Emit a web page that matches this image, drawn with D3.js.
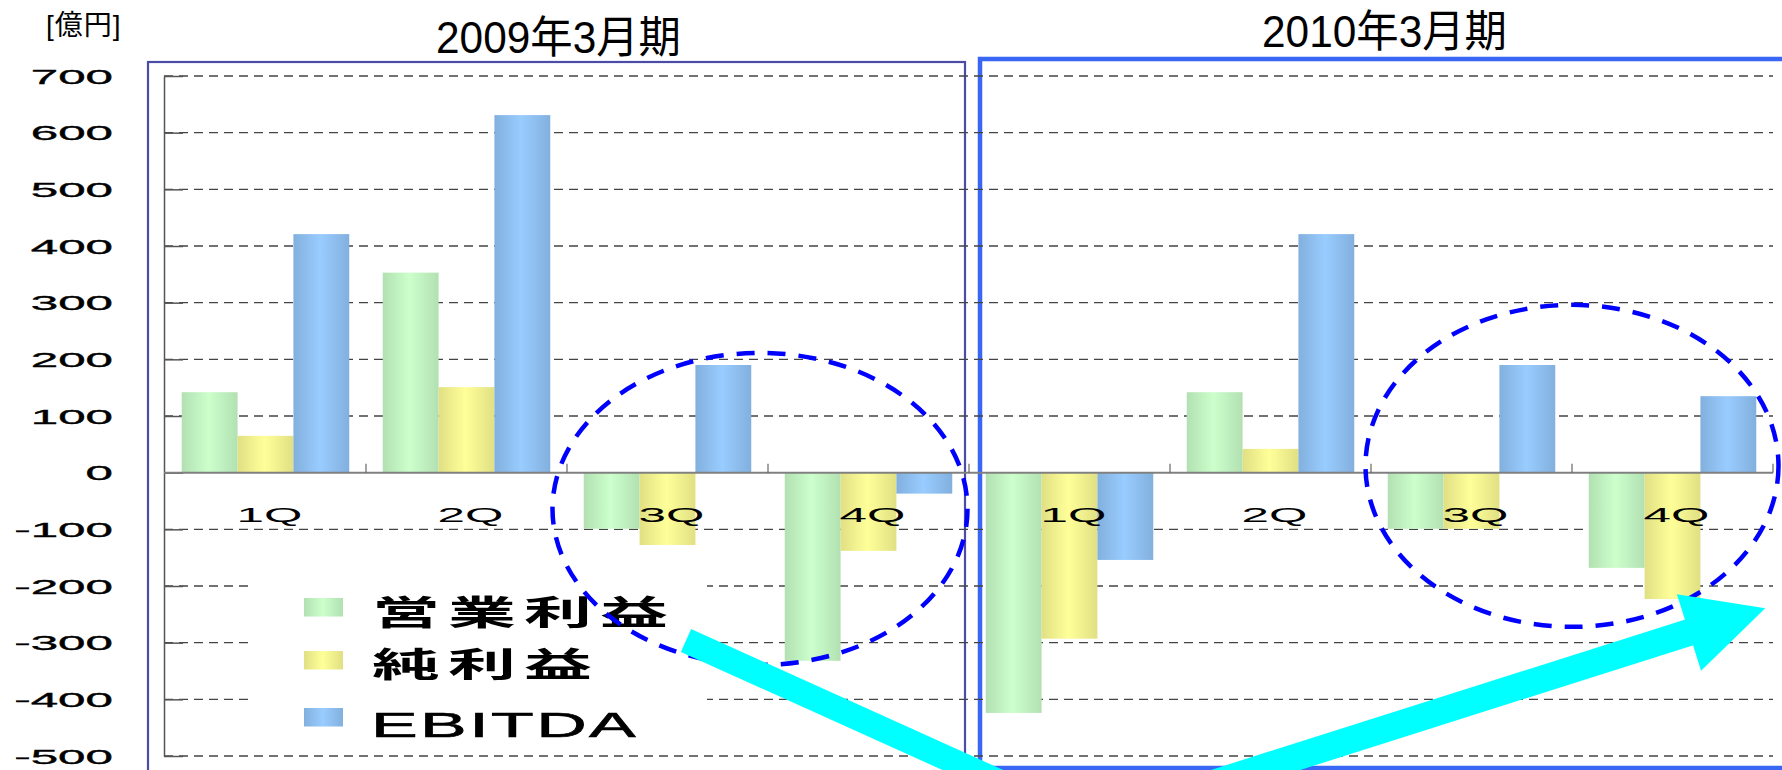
<!DOCTYPE html>
<html>
<head>
<meta charset="utf-8">
<script src="https://cdnjs.cloudflare.com/ajax/libs/d3/7.8.5/d3.min.js"></script>
<style>
body { margin: 0; background: #fff; }
svg { display: block; font-family: "Liberation Sans", Arial, "Noto Sans CJK JP", sans-serif; }
</style>
</head>
<body>
<svg id="chart" width="1782" height="770"></svg>
<script>
//Chart data
var years = ["2009年3月期", "2010年3月期"];
var quarters = ["1Q", "2Q", "3Q", "4Q"];
var seriesNames = ["営業利益", "純利益", "EBITDA"];
var opProfit = [142, 353, -99, -332, -424, 142, -99, -168];
var netProfit = [65, 151, -129, -138, -293, 42, -99, -223];
var ebitda = [421, 631, 190, -37, -154, 421, 190, 135];
var yTicks = [-500, -400, -300, -200, -100, 0, 100, 200, 300, 400, 500, 600, 700];
var unitLabel = "[億円]";

//Build rows from the arrays
var cats = [];
years.forEach(function(yr, i) {
    quarters.forEach(function(q, j) {
        var k = i * 4 + j;
        cats.push({idx: k, year: yr, q: q, vals: [opProfit[k], netProfit[k], ebitda[k]]});
    });
});

var colors = [["#b2e0b2", "#ccffcc"], ["#e0e084", "#ffff99"], ["#82b0de", "#99ccff"]];

var svg = d3.select("#chart");

//Scales
var x0 = d3.scaleBand().domain(d3.range(cats.length)).range([165, 1773]);
var x1 = d3.scaleBand().domain(seriesNames).range([0, x0.bandwidth()]).paddingOuter(0.3);
var y = d3.scaleLinear().domain([-500, 700]).range([756, 76]);

//Gradients for bars
var defs = svg.append("defs");
colors.forEach(function(c, i) {
    var g = defs.append("linearGradient")
        .attr("id", "grad" + i)
        .attr("x1", "0").attr("x2", "1").attr("y1", "0").attr("y2", "0");
    g.append("stop").attr("offset", "0%").attr("stop-color", c[0]);
    g.append("stop").attr("offset", "48%").attr("stop-color", c[1]);
    g.append("stop").attr("offset", "100%").attr("stop-color", c[0]);
});

//Year frames
svg.append("rect")
    .attr("x", 148).attr("y", 62)
    .attr("width", 817).attr("height", 760)
    .attr("fill", "none")
    .attr("stroke", "#4b4ba8")
    .attr("stroke-width", 2.2);

svg.append("rect")
    .attr("x", 980).attr("y", 59)
    .attr("width", 840).attr("height", 709)
    .attr("fill", "none")
    .attr("stroke", "#3a66f5")
    .attr("stroke-width", 4.5);

//Gridlines
svg.append("g")
    .selectAll("line")
    .data(yTicks.filter(function(d) { return d != 0; }))
    .enter()
    .append("line")
    .attr("x1", 164)
    .attr("x2", x0.range()[1])
    .attr("y1", function(d) { return y(d); })
    .attr("y2", function(d) { return y(d); })
    .attr("stroke", "#444")
    .attr("stroke-width", 1.3)
    .attr("stroke-dasharray", "9 6");

//Y axis line and inner ticks
var yAxis = svg.append("g")
    .attr("transform", "translate(164,0)")
    .call(d3.axisRight(y).tickValues(yTicks).tickSize(19).tickSizeOuter(0).tickFormat(""));
yAxis.select(".domain").attr("stroke", "#555").attr("stroke-width", 1.5);
yAxis.selectAll(".tick line").attr("stroke", "#555").attr("stroke-width", 1.5);

//Y tick labels (stretched like the original)
svg.append("g")
    .selectAll("text")
    .data(yTicks)
    .enter()
    .append("text")
    .attr("transform", function(d) { return "translate(113," + y(d) + ") scale(2.35,1)"; })
    .attr("text-anchor", "end")
    .attr("dy", "0.36em")
    .attr("font-size", 21)
    .attr("fill", "#000")
    .attr("stroke", "#000")
    .attr("stroke-width", 0.35)
    .text(function(d) { return d; });

//Bars
var groups = svg.append("g")
    .selectAll("g")
    .data(cats)
    .enter()
    .append("g")
    .attr("transform", function(d) { return "translate(" + x0(d.idx) + ",0)"; });

groups.selectAll("rect")
    .data(function(d) {
        return d.vals.map(function(v, i) { return {name: seriesNames[i], i: i, v: v}; });
    })
    .enter()
    .append("rect")
    .attr("x", function(d) { return x1(d.name); })
    .attr("width", x1.bandwidth())
    .attr("y", function(d) { return y(Math.max(0, d.v)); })
    .attr("height", function(d) { return Math.abs(y(d.v) - y(0)); })
    .attr("fill", function(d) { return "url(#grad" + d.i + ")"; });

//Zero line with category ticks
svg.append("line")
    .attr("x1", 164).attr("x2", x0.range()[1])
    .attr("y1", y(0)).attr("y2", y(0))
    .attr("stroke", "#808080")
    .attr("stroke-width", 2);

svg.append("g")
    .selectAll("line")
    .data(cats)
    .enter()
    .append("line")
    .attr("x1", function(d) { return x0(d.idx) + x0.bandwidth(); })
    .attr("x2", function(d) { return x0(d.idx) + x0.bandwidth(); })
    .attr("y1", y(0) - 9)
    .attr("y2", y(0))
    .attr("stroke", "#666")
    .attr("stroke-width", 1.2);

//Quarter labels
svg.append("g")
    .selectAll("text")
    .data(cats)
    .enter()
    .append("text")
    .attr("transform", function(d) {
        return "translate(" + (x0(d.idx) + x0.bandwidth() / 2 + 4) + ",522) scale(2.35,1)";
    })
    .attr("text-anchor", "middle")
    .attr("font-size", 21)
    .attr("fill", "#000")
    .text(function(d) { return d.q; });

//Legend
svg.append("rect")
    .attr("x", 249).attr("y", 545)
    .attr("width", 458).attr("height", 195)
    .attr("fill", "#fff");

var legend = svg.append("g")
    .selectAll("g")
    .data(seriesNames)
    .enter()
    .append("g")
    .attr("transform", function(d, i) { return "translate(0," + [598, 651, 708][i] + ")"; });

legend.append("rect")
    .attr("x", 304)
    .attr("width", 39)
    .attr("height", 18.5)
    .attr("fill", function(d, i) { return "url(#grad" + i + ")"; });

legend.append("text")
    .attr("transform", function(d, i) {
        if (i == 2) return "translate(371,29) scale(2,1)";
        return "translate(372," + (i == 0 ? 27 : 26) + ") scale(2,1)";
    })
    .attr("font-size", function(d, i) { return i == 2 ? 35 : 34; })
    .attr("font-weight", function(d, i) { return i == 2 ? "normal" : "bold"; })
    .attr("letter-spacing", function(d, i) { return i == 2 ? 1.2 : 4; })
    .attr("fill", "#000")
    .attr("stroke", "#000")
    .attr("stroke-width", function(d, i) { return i == 2 ? 0.6 : 0; })
    .text(function(d) { return d; });

//Dashed ellipses
var rings = [{cat: 3, dx: -8, value: -64, rx: 207.5, ry: 156},
             {cat: 7, dx: 0, value: 12, rx: 206.5, ry: 161}];
svg.append("g")
    .selectAll("ellipse")
    .data(rings)
    .enter()
    .append("ellipse")
    .attr("cx", function(d) { return x0(d.cat) + d.dx; })
    .attr("cy", function(d) { return y(d.value); })
    .attr("rx", function(d) { return d.rx; })
    .attr("ry", function(d) { return d.ry; })
    .attr("fill", "none")
    .attr("stroke", "#0000ff")
    .attr("stroke-width", 4.5)
    .attr("stroke-dasharray", "18 13");

//Cyan arrows
function dir(a) {
    var r = a * Math.PI / 180;
    return [Math.cos(r), Math.sin(r)];
}
var d1 = dir(24.3);
svg.append("line")
    .attr("x1", 686).attr("y1", 640.5)
    .attr("x2", 686 + d1[0] * 500).attr("y2", 640.5 + d1[1] * 500)
    .attr("stroke", "#00ffff")
    .attr("stroke-width", 25);

var d2 = dir(-17.6);
var base = [1689, 632.5];
svg.append("line")
    .attr("x1", base[0] - d2[0] * 600).attr("y1", base[1] - d2[1] * 600)
    .attr("x2", base[0] + d2[0] * 2).attr("y2", base[1] + d2[1] * 2)
    .attr("stroke", "#00ffff")
    .attr("stroke-width", 27);
var head = [
    [base[0] + d2[1] * 40, base[1] - d2[0] * 40],
    [base[0] + d2[0] * 80, base[1] + d2[1] * 80],
    [base[0] - d2[1] * 40, base[1] + d2[0] * 40]
];
svg.append("polygon")
    .attr("points", head.map(function(p) { return p.join(","); }).join(" "))
    .attr("fill", "#00ffff");

//Titles
svg.append("text")
    .attr("x", 46).attr("y", 35)
    .attr("font-size", 28)
    .attr("letter-spacing", 1)
    .attr("fill", "#000")
    .text(unitLabel);

svg.append("g")
    .selectAll("text")
    .data(years)
    .enter()
    .append("text")
    .attr("x", function(d, i) { return [436, 1262][i]; })
    .attr("y", function(d, i) { return [53, 47][i]; })
    .attr("font-size", 44)
    .attr("textLength", 245)
    .attr("lengthAdjust", "spacingAndGlyphs")
    .attr("fill", "#000")
    .text(function(d) { return d; });
</script>
</body>
</html>
